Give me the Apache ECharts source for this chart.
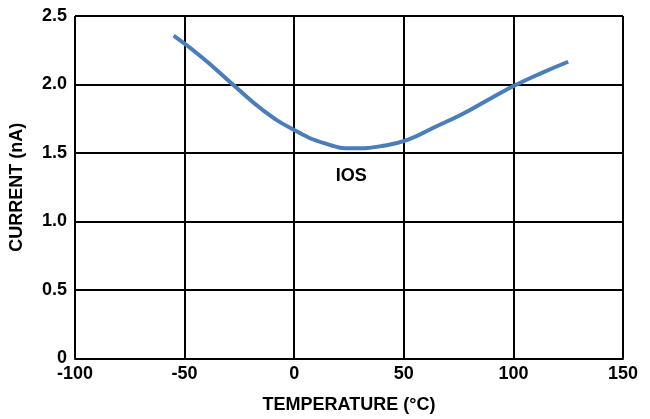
<!DOCTYPE html>
<html><head><meta charset="utf-8">
<script src="https://cdn.jsdelivr.net/npm/echarts@6/dist/echarts.min.js"></script>
<style>html,body{margin:0;padding:0;background:#fff}#c{width:650px;height:419px}</style>
</head><body><div id="c"></div>
<script>
var temps = [-55, -42, -28, -14, 0, 14, 27, 40, 52, 64, 77, 90, 101, 113, 125];
var iosCurrent = [2.356, 2.197, 2.0, 1.81, 1.668, 1.57, 1.534, 1.551, 1.598, 1.688, 1.787, 1.902, 1.996, 2.085, 2.166];
var seriesLabel = 'IOS';
var labelPos = [26, 1.335];
var font = 'Liberation Sans, Arial, sans-serif';
var chart = echarts.init(document.getElementById('c'));
chart.setOption({
  animation: false,
  grid: {left: 75, right: 27, top: 16, bottom: 60.5, containLabel: false, outerBoundsMode: 'none'},
  xAxis: {
    type: 'value', min: -100, max: 150, interval: 50,
    name: 'TEMPERATURE (°C)', nameLocation: 'middle', nameGap: 38,
    nameTextStyle: {fontFamily: font, fontWeight: 'bold', fontSize: 18, color: '#000'},
    axisLine: {show: true, lineStyle: {color: '#000', width: 2}},
    axisTick: {show: false},
    axisLabel: {fontFamily: font, fontWeight: 'bold', fontSize: 18, color: '#000', margin: 7},
    splitLine: {show: true, lineStyle: {color: '#000', width: 2}}
  },
  yAxis: {
    type: 'value', min: 0, max: 2.5, interval: 0.5,
    name: 'CURRENT (nA)', nameLocation: 'middle', nameGap: 49,
    nameTextStyle: {fontFamily: font, fontWeight: 'bold', fontSize: 18, color: '#000'},
    axisLine: {show: true, lineStyle: {color: '#000', width: 2}},
    axisTick: {show: false},
    axisLabel: {fontFamily: font, fontWeight: 'bold', fontSize: 18, color: '#000', margin: 8,
      formatter: function(v){ return v === 0 ? '0' : v.toFixed(1); }},
    splitLine: {show: true, lineStyle: {color: '#000', width: 2}}
  },
  series: [{
    type: 'line', smooth: 0.5, symbol: 'none',
    data: temps.map(function(t, i){ return [t, iosCurrent[i]]; }),
    lineStyle: {color: '#4A7EBB', width: 4, cap: 'butt'},
    markPoint: {
      symbol: 'circle', symbolSize: 0,
      data: [{coord: labelPos, value: seriesLabel}],
      label: {show: true, formatter: seriesLabel, position: 'inside', fontFamily: font, fontWeight: 'bold', fontSize: 18, color: '#000'}
    }
  }]
});
</script></body></html>
